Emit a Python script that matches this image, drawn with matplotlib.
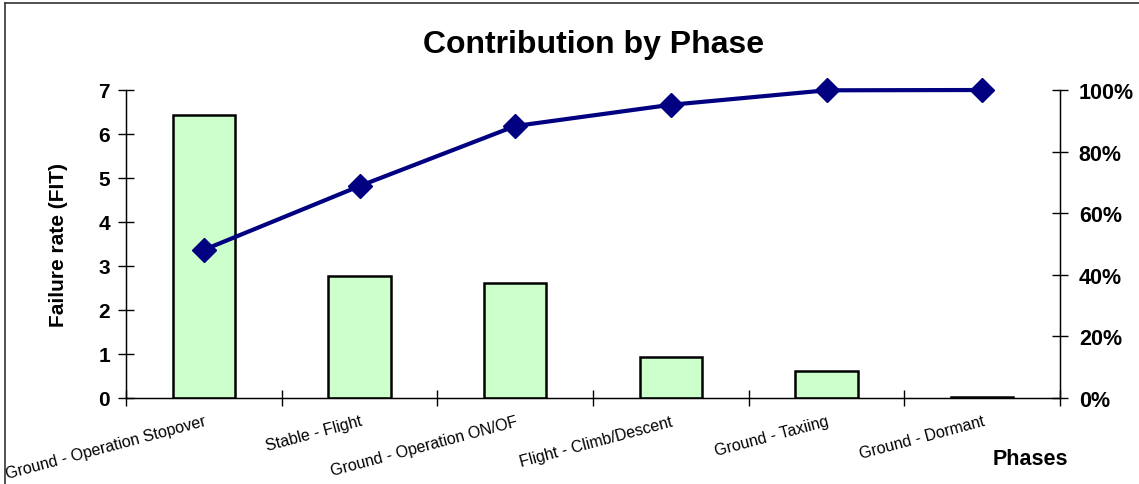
import matplotlib
matplotlib.use("Agg")
import matplotlib.pyplot as plt
from matplotlib.ticker import FuncFormatter, FixedLocator
from matplotlib.lines import Line2D

plt.rcParams['font.family'] = ['Liberation Sans', 'DejaVu Sans']

phases = ["Ground - Operation Stopover", "Stable - Flight", "Ground - Operation ON/OF",
          "Flight - Climb/Descent", "Ground - Taxiing", "Ground - Dormant"]
failure_rate = [6.43, 2.77, 2.61, 0.93, 0.61, 0.02]
cumulative_pct = [48.1, 68.8, 88.3, 95.2, 99.9, 100.0]
left_ticks = [0, 1, 2, 3, 4, 5, 6, 7]
right_ticks = [0, 20, 40, 60, 80, 100]

W, H = 1139, 485
fig = plt.figure(figsize=(W / 100, H / 100), dpi=100)
fig.patch.set_facecolor('white')

# chart-area border (top and left visible)
fig.add_artist(Line2D([5 / W, 5 / W], [0, 1 - 4 / H], transform=fig.transFigure, color='#333333', lw=1.2))
fig.add_artist(Line2D([5 / W, 1], [1 - 4 / H, 1 - 4 / H], transform=fig.transFigure, color='#333333', lw=1.2))

ax = fig.add_axes([126 / W, 1 - 399 / H, (1060 - 126) / W, (399 - 91) / H])
x = list(range(len(phases)))
ax.bar(x, failure_rate, width=0.4, color='#CCFFCC', edgecolor='black', linewidth=1.8, zorder=2)
ax.set_xlim(-0.5, len(phases) - 0.5)
ax.set_ylim(0, 7)
ax.yaxis.set_major_locator(FixedLocator(left_ticks))
ax.tick_params(axis='y', direction='inout', length=11, width=1, labelsize=15, pad=6)
for lbl in ax.get_yticklabels():
    lbl.set_fontweight('bold')

ax.xaxis.set_major_locator(FixedLocator([i - 0.5 for i in range(len(phases) + 1)]))
ax.xaxis.set_major_formatter(FuncFormatter(lambda v, p: ''))
ax.xaxis.set_minor_locator(FixedLocator(x))
ax.set_xticks(x, minor=True)
ax.set_xticklabels(phases, minor=True, rotation=15, ha='right', rotation_mode='anchor', fontsize=11.5)
ax.tick_params(axis='x', which='major', direction='inout', length=11, width=1)
ax.tick_params(axis='x', which='minor', length=0, pad=11)

ax.spines['top'].set_visible(False)
for s in ['left', 'bottom', 'right']:
    ax.spines[s].set_linewidth(1)
ax.set_ylabel('Failure rate (FIT)', fontsize=15, fontweight='bold', labelpad=22)

ax2 = ax.twinx()
ax2.plot(x, cumulative_pct, color='#000080', lw=3, marker='D', markersize=12,
         markerfacecolor='#000080', markeredgecolor='#000080', zorder=3, clip_on=False)
ax2.set_ylim(0, 100)
ax2.yaxis.set_major_locator(FixedLocator(right_ticks))
ax2.yaxis.set_major_formatter(FuncFormatter(lambda v, p: f"{v:.0f}%"))
ax2.tick_params(axis='y', direction='inout', length=11, width=1, labelsize=15.5, pad=8)
for lbl in ax2.get_yticklabels():
    lbl.set_fontweight('bold')
ax2.spines['top'].set_visible(False)

fig.text(594 / W, 1 - 45 / H, 'Contribution by Phase', ha='center', va='center', fontsize=23, fontweight='bold')
fig.text(1030 / W, 1 - 460 / H, 'Phases', ha='center', va='center', fontsize=15.5, fontweight='bold')

fig.savefig('out.png', dpi=100)
